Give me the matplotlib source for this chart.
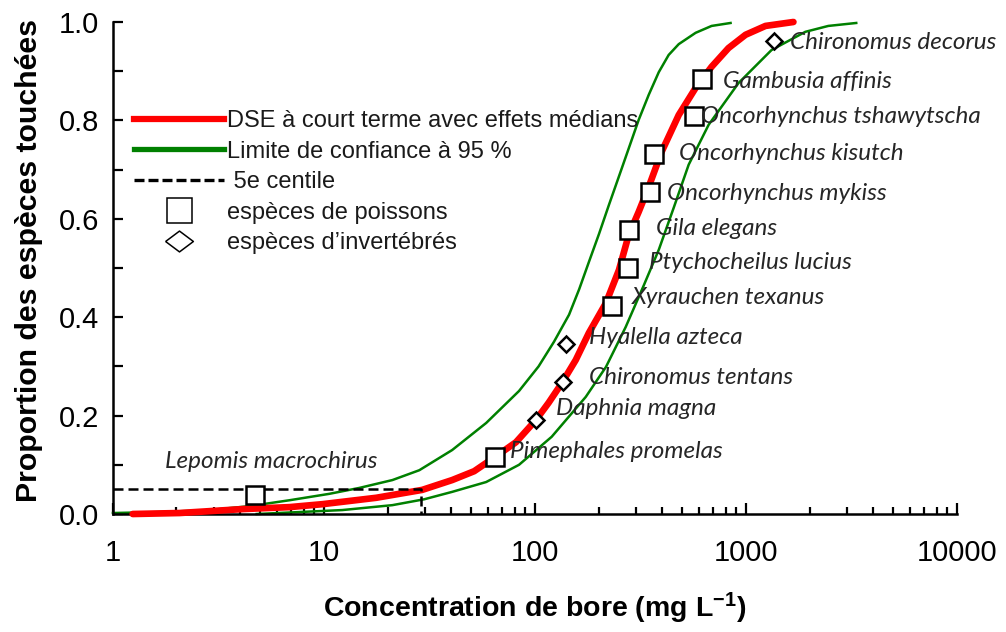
import numpy as np
import matplotlib
matplotlib.use("Agg")
import matplotlib.pyplot as plt
from matplotlib.lines import Line2D
from matplotlib.ticker import LogLocator, MultipleLocator, FixedFormatter, FixedLocator

plt.rcParams["mathtext.default"] = "regular"

#-----------------
# data
species = ["Lepomis macrochirus", "Pimephales promelas", "Daphnia magna", "Chironomus tentans",
           "Hyalella azteca", "Xyrauchen texanus", "Ptychocheilus lucius", "Gila elegans",
           "Oncorhynchus mykiss", "Oncorhynchus kisutch", "Oncorhynchus tshawytscha",
           "Gambusia affinis", "Chironomus decorus"]
conc = [4.69, 64.7, 101, 136, 140, 231, 275, 278, 350, 365, 565, 622, 1364]
prop = [0.038, 0.115, 0.192, 0.269, 0.346, 0.423, 0.500, 0.577, 0.654, 0.731, 0.808, 0.885, 0.962]
group = ["fish", "fish", "invert", "invert", "invert", "fish", "fish", "fish",
         "fish", "fish", "fish", "fish", "invert"]

# median SSD curve
red_x = [1.24, 2.07, 4.12, 6.87, 9.84, 17.7, 29.2, 40.5, 51.5, 64.7, 81.3, 101, 116, 134,
         156, 180, 217, 250, 278, 310, 346, 398, 480, 577, 687, 826, 995, 1237, 1678]
red_y = [0.0, 0.002, 0.010, 0.014, 0.020, 0.033, 0.049, 0.069, 0.087, 0.116, 0.146, 0.191,
         0.226, 0.266, 0.313, 0.368, 0.429, 0.496, 0.567, 0.614, 0.665, 0.736, 0.811, 0.866,
         0.909, 0.947, 0.974, 0.992, 1.0]

# 95 % confidence limits
upper_x = [1.0, 1.67, 2.87, 4.44, 6.87, 10.6, 14.7, 21.1, 28.3, 40.5, 58.7, 84, 104, 123,
           145, 162, 180, 201, 224, 258, 310, 346, 386, 430, 480, 577, 687, 845]
upper_y = [0.002, 0.004, 0.008, 0.016, 0.028, 0.041, 0.053, 0.069, 0.089, 0.130, 0.185,
           0.250, 0.300, 0.350, 0.405, 0.457, 0.512, 0.569, 0.628, 0.703, 0.801, 0.852,
           0.898, 0.933, 0.955, 0.978, 0.992, 0.998]
lower_x = [4.8, 7.66, 12.2, 21.1, 29.9, 40.5, 58.7, 84, 120, 174, 217, 269, 328, 386, 454,
           535, 665, 922, 1321, 1910, 2455, 3330]
lower_y = [0.0, 0.004, 0.008, 0.018, 0.030, 0.045, 0.065, 0.100, 0.157, 0.238, 0.299, 0.380,
           0.465, 0.537, 0.622, 0.710, 0.791, 0.876, 0.943, 0.980, 0.992, 0.998]

# 5th centile
hc5 = 28.9
p5 = 0.05

# label offsets in pixels from each marker
label_dx = [-90, 15, 20, 26, 23, 20, 21, 27, 17, 25, 7, 21, 16]
label_dy = [34, 6, 11, 4, 6, 8, 5, 2, -1, 1, 0, -3, -2]

xticks = [1, 10, 100, 1000, 10000]
xticklabels = ["1", "10", "100", "1000", "10000"]

#-----------------
# figure
fig = plt.figure(figsize=(10.06, 6.32), dpi=100)
ax = fig.add_axes([0.1123, 0.1867, 0.8390, 0.7785])

ax.plot(upper_x, upper_y, color="#008000", lw=1.8, zorder=2, clip_on=False,
        solid_joinstyle="round")
ax.plot(lower_x, lower_y, color="#008000", lw=1.8, zorder=2, clip_on=False,
        solid_joinstyle="round")
ax.plot(red_x, red_y, color="#ff0000", lw=4.8, zorder=3, solid_capstyle="round",
        solid_joinstyle="round", clip_on=False)

# dashed 5th centile
ax.plot([1, hc5, hc5], [p5, p5, 0], color="black", lw=1.8, ls=(0, (4, 2)), zorder=4)

for name, x, y, g, dx, dy in zip(species, conc, prop, group, label_dx, label_dy):
    mk = "s" if g == "fish" else "D"
    ms = 12.5 if g == "fish" else 8.5
    ax.plot(x, y, marker=mk, ms=ms, mfc="white", mec="black", mew=1.8, zorder=5, ls="none")
    ax.annotate(name, (x, y), xytext=(dx, dy), textcoords="offset pixels",
                ha="left", va="center", fontsize=17.5, style="italic",
                family="Lato", color="#262626", zorder=6)

ax.set_xscale("log")
ax.set_xlim(1, 10000)
ax.set_ylim(0, 1)

ax.xaxis.set_major_locator(FixedLocator(xticks))
ax.xaxis.set_major_formatter(FixedFormatter(xticklabels))
ax.xaxis.set_minor_locator(LogLocator(base=10, subs=np.arange(2, 10)))
ax.xaxis.set_minor_formatter(plt.NullFormatter())
ax.yaxis.set_major_locator(MultipleLocator(0.2))
ax.yaxis.set_minor_locator(MultipleLocator(0.1))
ax.yaxis.set_major_formatter(plt.FuncFormatter(lambda v, p: f"{v:.1f}"))

for s in ["top", "right"]:
    ax.spines[s].set_visible(False)
for s in ["left", "bottom"]:
    ax.spines[s].set_linewidth(1.8)

ax.tick_params(axis="both", which="both", direction="in", width=1.6,
               labelsize=21, labelfontfamily="Liberation Sans")
ax.tick_params(axis="x", which="major", length=8, pad=18)
ax.tick_params(axis="x", which="minor", length=5)
ax.tick_params(axis="y", which="major", length=7, pad=10)
ax.tick_params(axis="y", which="minor", length=7)

ax.set_xlabel("Concentration de bore (mg L$^{-1}$)", fontsize=20.5,
              fontweight="bold", family="Liberation Sans", labelpad=17)
ax.set_ylabel("Proportion des espèces touchées", fontsize=21.8,
              fontweight="bold", family="Liberation Sans")
ax.yaxis.set_label_coords(-0.083, 0.516)

#-----------------
# legend
flat_diamond = [(-1, 0), (0, 0.75), (1, 0), (0, -0.75), (-1, 0)]
handles = [
    Line2D([], [], color="#ff0000", lw=4.5),
    Line2D([], [], color="#008000", lw=3.8),
    Line2D([], [], color="black", lw=2.4, ls=(0, (3, 1.2))),
    Line2D([], [], marker="s", ms=18, mfc="white", mec="black", mew=1.1, ls="none"),
    Line2D([], [], marker=flat_diamond, ms=20, mfc="white", mec="black", mew=1.1, ls="none"),
]
labels = ["DSE à court terme avec effets médians", "Limite de confiance à 95 %",
          " 5e centile", "espèces de poissons", "espèces d’invertébrés"]
leg = ax.legend(handles, labels, loc="upper left", bbox_to_anchor=(134 / 1006, 1 - 110 / 632),
                bbox_transform=fig.transFigure, frameon=False, borderpad=0, borderaxespad=0,
                handlelength=3.8, handletextpad=0.15, labelspacing=0.36,
                prop={"family": "Liberation Sans", "size": 17})
for t in leg.get_texts():
    t.set_color("#1a1a1a")

fig.savefig("out.png", dpi=100)
